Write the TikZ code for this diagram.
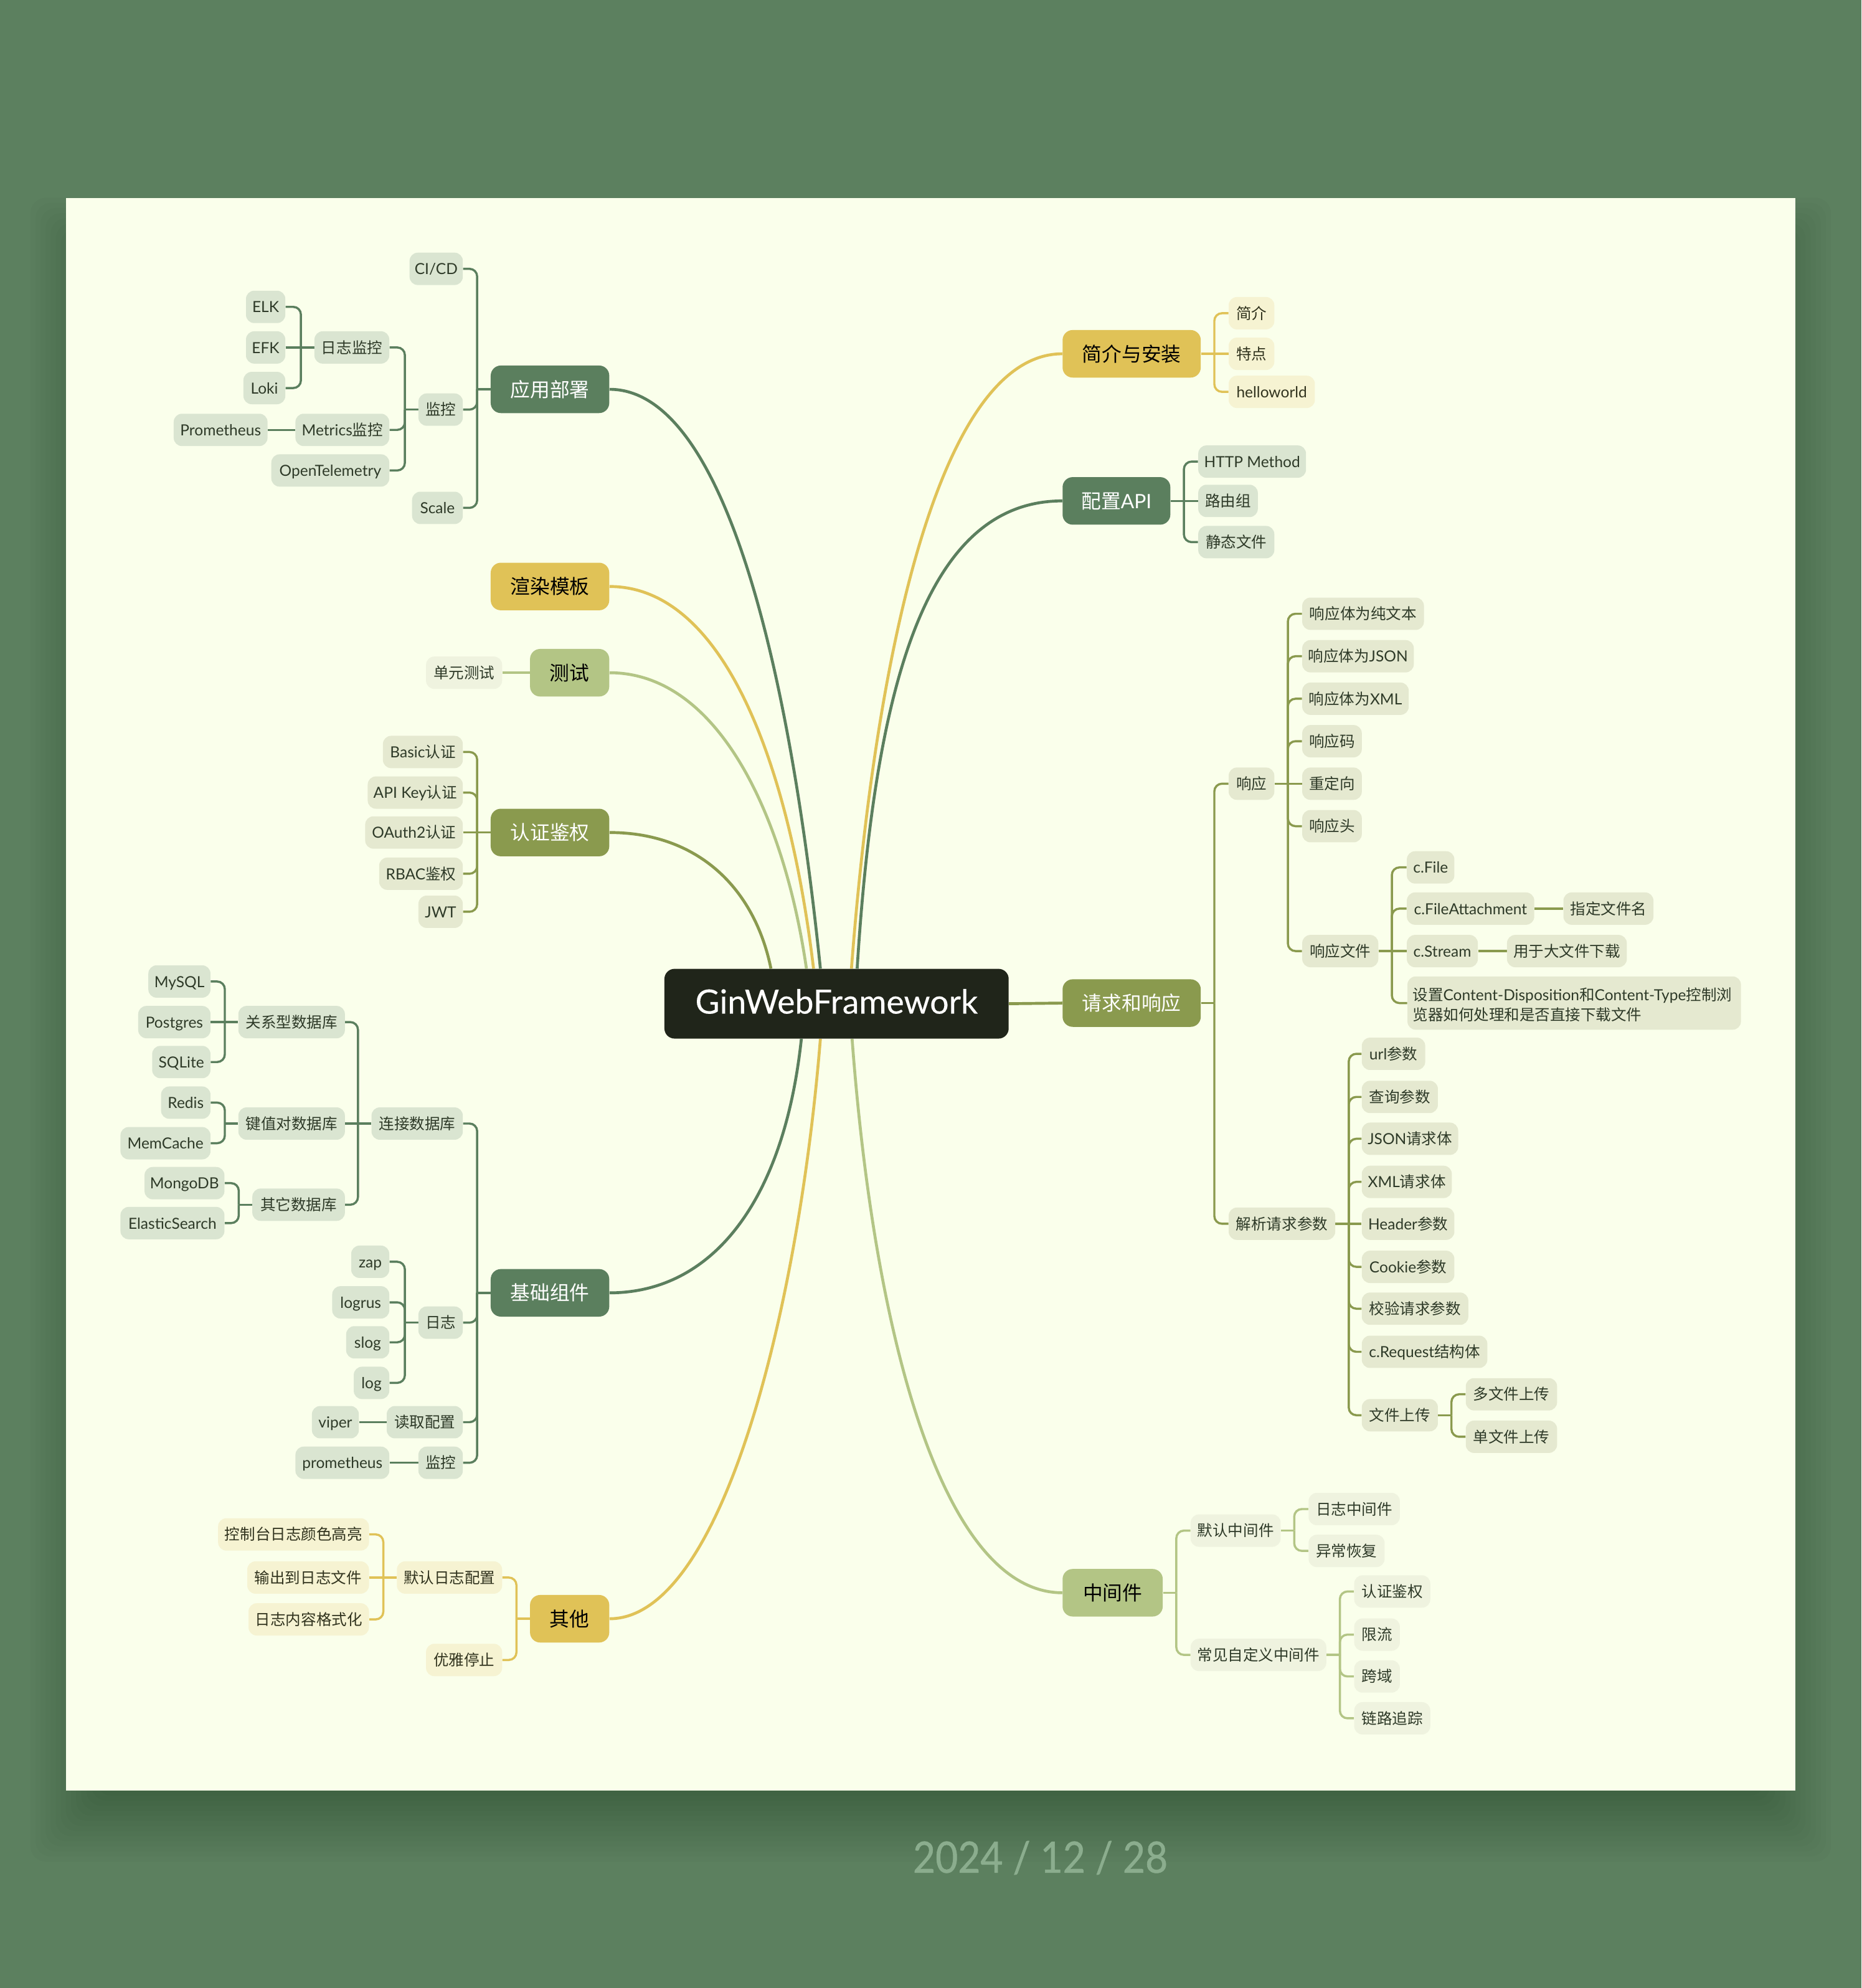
\documentclass[tikz,border=0pt]{standalone}
\usepackage{fontspec}
\usetikzlibrary{calc,backgrounds}
\setmainfont{Lato}
\newfontfamily\cj{Noto Sans CJK SC}
\newfontfamily\lat{Lato}
\newfontfamily\latb[FakeBold=0.25]{Lato}
\newfontfamily\latd[FakeBold=0.9]{Lato}
\newXeTeXintercharclass\cjkcl
\newcount\cidx
\cidx="4E00
\loop\XeTeXcharclass\cidx=\cjkcl\advance\cidx by 1\ifnum\cidx<"A000 \repeat
\XeTeXinterchartokenstate=1
\XeTeXinterchartoks 0 \cjkcl={\cj}
\XeTeXinterchartoks 4095 \cjkcl={\cj}
\XeTeXinterchartoks \cjkcl 0={\lat}
\definecolor{bgc}{HTML}{5C805F}
\definecolor{paper}{HTML}{FAFFEB}
\definecolor{gr}{HTML}{5B7F5E}
\definecolor{ye}{HTML}{E0C257}
\definecolor{ol}{HTML}{8A9A4E}
\definecolor{lg}{HTML}{B3C585}
\definecolor{grs}{HTML}{DAE5D1}
\definecolor{yes}{HTML}{F6F3D2}
\definecolor{ols}{HTML}{E5E9D0}
\definecolor{lgs}{HTML}{EFF3DF}
\definecolor{ink}{HTML}{2E3A28}
\definecolor{rootc}{HTML}{20251A}
\definecolor{datec}{HTML}{8BAD8E}
\tikzset{
  box/.style={rounded corners=6.5pt,inner sep=0pt,minimum height=25.5pt,text height=9.5pt,text depth=0.5pt,font=\fontsize{12.05}{16}\selectfont,text=ink},
  gbox/.style={box,fill=grs},
  ybox/.style={box,fill=yes,text=ink!80!ye!60!black},
  obox/.style={box,fill=ols},
  lbox/.style={box,fill=lgs},
  main/.style={rounded corners=8pt,inner sep=0pt,minimum height=37.5pt,text height=12pt,text depth=0.2pt,font=\fontsize{15.6}{20}\selectfont},
  gmain/.style={main,fill=gr,text=white},
  ymain/.style={main,fill=ye,text=black},
  omain/.style={main,fill=ol,text=white},
  lmain/.style={main,fill=lg,text=black},
  root/.style={rounded corners=8pt,inner sep=0pt,minimum height=55pt,text height=15.6pt,text depth=0pt,fill=rootc,text=white,font=\latb\fontsize{26.3}{32}\selectfont},
  gw/.style={draw=gr,line width=1.7pt},
  yw/.style={draw=ye,line width=1.7pt},
  ow/.style={draw=ol,line width=1.7pt},
  lw/.style={draw=lg,line width=1.7pt},
  cv/.style={line width=2.3pt},
}
\newcommand\mm[6]{\node[#2,minimum width={(#4-#3)*1pt}] (#1) at ({(#3+#4)/2},#5) {#6};}
\newcommand\leftwires[3]{\coordinate (tmpc) at ($(#2.west)+(-10.5,0)$); \draw[#1] (#2.west) -- (tmpc);
  \foreach \c in {#3}{\draw[#1,rounded corners=6pt] (\c.east) -| (tmpc);}}
\newcommand\rightwires[3]{\coordinate (tmpc) at ($(#2.east)+(10.5,0)$); \draw[#1] (#2.east) -- (tmpc);
  \foreach \c in {#3}{\draw[#1,rounded corners=6pt] (\c.west) -| (tmpc);}}
\pgfdeclarelayer{backdrop}
\pgfdeclarelayer{wires}
\pgfsetlayers{backdrop,wires,main}
\begin{document}
\begin{tikzpicture}[x=1pt,y=-1pt]
\useasboundingbox (0,0) rectangle (1468,1567.7);
\begin{pgfonlayer}{backdrop}
  \fill[bgc] (0,0) rectangle (1468,1567.7);
  \foreach \d in {-28,-24,...,28}{
    \fill[black,opacity=0.016,rounded corners=12pt] ({52-\d},{156+28-\d}) rectangle ({1416+\d},{1412+28+\d});
  }
  \fill[paper] (52,156) rectangle (1416,1412);
\end{pgfonlayer}
\node[text=datec,font=\latd\fontsize{34}{40}\selectfont,inner sep=0pt,xscale=0.9] (date) at (820.5,1465) {2024 / 12 / 28};

% root and first level
\mm{root}{root}{524}{795.5}{791.5}{GinWebFramework}
\mm{intro}{ymain}{838}{947}{279}{简介与安装}
\mm{conf}{gmain}{838}{923}{395}{配置API}
\mm{req}{omain}{838}{947}{791}{请求和响应}
\mm{mid}{lmain}{838}{917}{1256}{中间件}
\mm{dep}{gmain}{387}{480.5}{307}{应用部署}
\mm{tpl}{ymain}{387}{480.5}{462.5}{渲染模板}
\mm{tst}{lmain}{418}{480.5}{530.5}{测试}
\mm{auth}{omain}{387}{480.5}{656.5}{认证鉴权}
\mm{base}{gmain}{387}{480.5}{1019.5}{基础组件}
\mm{oth}{ymain}{418}{480.5}{1276.5}{其他}

% deployment
\mm{cicd}{gbox}{323}{365}{212}{CI/CD}
\mm{mon}{gbox}{330}{365}{323}{监控}
\mm{scale}{gbox}{325}{365}{400.5}{Scale}
\mm{logm}{gbox}{248}{307}{274}{日志监控}
\mm{metm}{gbox}{233}{307}{339}{Metrics监控}
\mm{otel}{gbox}{214}{307}{371}{OpenTelemetry}
\mm{elk}{gbox}{194}{225}{242}{ELK}
\mm{efk}{gbox}{194}{225}{274}{EFK}
\mm{loki}{gbox}{192}{225}{306}{Loki}
\mm{prom}{gbox}{137}{211}{339}{Prometheus}

% intro, config
\mm{i1}{ybox}{969}{1005}{247}{简介}
\mm{i2}{ybox}{969}{1005}{279}{特点}
\mm{i3}{ybox}{969}{1037}{309}{helloworld}
\mm{c1}{gbox}{945}{1030}{364}{HTTP Method}
\mm{c2}{gbox}{945}{992}{395}{路由组}
\mm{c3}{gbox}{945}{1005}{427.5}{静态文件}

% request and response
\mm{resp}{obox}{969}{1005}{618}{响应}
\mm{parse}{obox}{969}{1053}{965}{解析请求参数}
\mm{r1}{obox}{1027}{1123}{484}{响应体为纯文本}
\mm{r2}{obox}{1027}{1115}{517.5}{响应体为JSON}
\mm{r3}{obox}{1027}{1111}{551}{响应体为XML}
\mm{r4}{obox}{1027}{1074}{584.5}{响应码}
\mm{r5}{obox}{1027}{1074}{618}{重定向}
\mm{r6}{obox}{1027}{1074}{651.5}{响应头}
\mm{r7}{obox}{1027}{1087}{750}{响应文件}
\mm{f1}{obox}{1109.5}{1147}{684}{c.File}
\mm{f2}{obox}{1109.5}{1210}{716.5}{c.FileAttachment}
\mm{f2a}{obox}{1233}{1304}{716.5}{指定文件名}
\mm{f3}{obox}{1109.5}{1165.5}{750}{c.Stream}
\mm{f3a}{obox}{1188.5}{1283}{750}{用于大文件下载}
\node[obox,minimum width=263pt,minimum height=42pt,text height=,text depth=,align=left] (f4) at (1241.5,791) {\rule{0pt}{12.5pt}设置Content-Disposition和Content-Type控制浏\hspace*{3pt}\\览器如何处理和是否直接下载文件};
\mm{p1}{obox}{1074}{1124}{831}{url参数}
\mm{p2}{obox}{1074}{1134}{865}{查询参数}
\mm{p3}{obox}{1074}{1150}{898}{JSON请求体}
\mm{p4}{obox}{1074}{1145}{932}{XML请求体}
\mm{p5}{obox}{1074}{1147}{965}{Header参数}
\mm{p6}{obox}{1074}{1147}{999}{Cookie参数}
\mm{p7}{obox}{1074}{1158}{1032}{校验请求参数}
\mm{p8}{obox}{1074}{1173}{1066}{c.Request结构体}
\mm{p9}{obox}{1074}{1134}{1116}{文件上传}
\mm{u1}{obox}{1156}{1228}{1099.5}{多文件上传}
\mm{u2}{obox}{1156}{1228}{1133}{单文件上传}

% middleware
\mm{md}{lbox}{939}{1010}{1207}{默认中间件}
\mm{mc}{lbox}{939}{1046}{1305}{常见自定义中间件}
\mm{d1}{lbox}{1032}{1104}{1190}{日志中间件}
\mm{d2}{lbox}{1032}{1092}{1223}{异常恢复}
\mm{e1}{lbox}{1068}{1128}{1255}{认证鉴权}
\mm{e2}{lbox}{1068}{1104}{1289}{限流}
\mm{e3}{lbox}{1068}{1104}{1322}{跨域}
\mm{e4}{lbox}{1068}{1128}{1355}{链路追踪}

% test, auth
\mm{ut}{lbox}{336}{396}{530.5}{单元测试}
\mm{a1}{obox}{302}{365}{593}{Basic认证}
\mm{a2}{obox}{290}{365}{625}{API Key认证}
\mm{a3}{obox}{288}{365}{656.5}{OAuth2认证}
\mm{a4}{obox}{299}{365}{689}{RBAC鉴权}
\mm{a5}{obox}{330}{365}{719}{JWT}

% base
\mm{db}{gbox}{293}{365}{886}{连接数据库}
\mm{blog}{gbox}{330}{365}{1043}{日志}
\mm{rcfg}{gbox}{305}{365}{1121.5}{读取配置}
\mm{bmon}{gbox}{330}{365}{1153.5}{监控}
\mm{rel}{gbox}{188}{272}{806}{关系型数据库}
\mm{kv}{gbox}{188}{272}{886}{键值对数据库}
\mm{odb}{gbox}{199}{272}{950}{其它数据库}
\mm{mysql}{gbox}{117}{166}{774}{MySQL}
\mm{pg}{gbox}{109}{166}{806}{Postgres}
\mm{sqlite}{gbox}{120}{166}{837.5}{SQLite}
\mm{redis}{gbox}{127}{166}{869.5}{Redis}
\mm{memc}{gbox}{95}{166}{901.5}{MemCache}
\mm{mongo}{gbox}{114}{177}{933}{MongoDB}
\mm{es}{gbox}{95}{177}{964.5}{ElasticSearch}
\mm{zap}{gbox}{277}{307}{995}{zap}
\mm{logrus}{gbox}{262}{307}{1027}{logrus}
\mm{slog}{gbox}{273}{307}{1058.5}{slog}
\mm{lg}{gbox}{279}{307}{1090.5}{log}
\mm{viper}{gbox}{246}{283}{1121.5}{viper}
\mm{pmet}{gbox}{233}{307}{1153.5}{prometheus}

% other
\mm{dl}{ybox}{313}{396}{1244}{默认日志配置}
\mm{gs}{ybox}{336}{396}{1309}{优雅停止}
\mm{o1}{ybox}{172}{291}{1210}{控制台日志颜色高亮}
\mm{o2}{ybox}{195}{291}{1244}{输出到日志文件}
\mm{o3}{ybox}{196}{291}{1277}{日志内容格式化}

\begin{pgfonlayer}{wires}
  % curves from the root
  \draw[ye,cv] ($(root.north)+(11.75,0)$) .. controls (690,520) and (740,279) .. (intro.west);
  \draw[gr,cv] ($(root.north)+(16.25,0)$) .. controls (690,540) and (730,395) .. (conf.west);
  \draw[ol,cv] (root.east) -- (req.west);
  \draw[lg,cv] ($(root.south)+(12.25,0)$) .. controls (690,1060) and (745,1256) .. (mid.west);
  \draw[gr,cv] ($(root.north)+(-12.75,0)$) .. controls (622,520) and (570,307) .. (dep.east);
  \draw[ye,cv] ($(root.north)+(-18.15,0)$) .. controls (622,600) and (570,462.5) .. (tpl.east);
  \draw[lg,cv] ($(root.north)+(-23.75,0)$) .. controls (618,640) and (565,530.5) .. (tst.east);
  \draw[ol,cv] ($(root.north)+(-51.75,0)$) .. controls (595,700) and (550,656.5) .. (auth.east);
  \draw[gr,cv] ($(root.south)+(-27.75,0)$) .. controls (618,950) and (560,1019.5) .. (base.east);
  \draw[ye,cv] ($(root.south)+(-12.75,0)$) .. controls (630,1030) and (570,1276.5) .. (oth.east);
  % deployment
  \leftwires{gw}{dep}{cicd,mon,scale}
  \leftwires{gw}{mon}{logm,metm,otel}
  \leftwires{gw}{logm}{elk,loki}
  \draw[gw] (efk.east) -- (logm.west);
  \draw[gw] (prom.east) -- (metm.west);
  % intro, config
  \rightwires{yw}{intro}{i1,i3}
  \draw[yw] (intro.east) -- (i2.west);
  \rightwires{gw}{conf}{c1,c3}
  \draw[gw] (conf.east) -- (c2.west);
  % request
  \rightwires{ow}{req}{resp,parse}
  \rightwires{ow}{resp}{r1,r2,r3,r4,r6,r7}
  \draw[ow] (resp.east) -- (r5.west);
  \rightwires{ow}{r7}{f1,f2,f4}
  \draw[ow] (r7.east) -- (f3.west);
  \draw[ow] (f2.east) -- (f2a.west);
  \draw[ow] (f3.east) -- (f3a.west);
  \rightwires{ow}{parse}{p1,p2,p3,p4,p6,p7,p8,p9}
  \draw[ow] (parse.east) -- (p5.west);
  \rightwires{ow}{p9}{u1,u2}
  % middleware
  \rightwires{lw}{mid}{md,mc}
  \rightwires{lw}{md}{d1,d2}
  \rightwires{lw}{mc}{e1,e2,e3,e4}
  % test, auth
  \draw[lw] (ut.east) -- (tst.west);
  \leftwires{ow}{auth}{a1,a2,a4,a5}
  \draw[ow] (a3.east) -- (auth.west);
  % base
  \leftwires{gw}{base}{db,blog,rcfg,bmon}
  \leftwires{gw}{db}{rel,odb}
  \draw[gw] (kv.east) -- (db.west);
  \leftwires{gw}{rel}{mysql,sqlite}
  \draw[gw] (pg.east) -- (rel.west);
  \leftwires{gw}{kv}{redis,memc}
  \leftwires{gw}{odb}{mongo,es}
  \leftwires{gw}{blog}{zap,logrus,slog,lg}
  \draw[gw] (viper.east) -- (rcfg.west);
  \draw[gw] (pmet.east) -- (bmon.west);
  % other
  \leftwires{yw}{oth}{dl,gs}
  \leftwires{yw}{dl}{o1,o3}
  \draw[yw] (o2.east) -- (dl.west);
\end{pgfonlayer}
\end{tikzpicture}
\end{document}
